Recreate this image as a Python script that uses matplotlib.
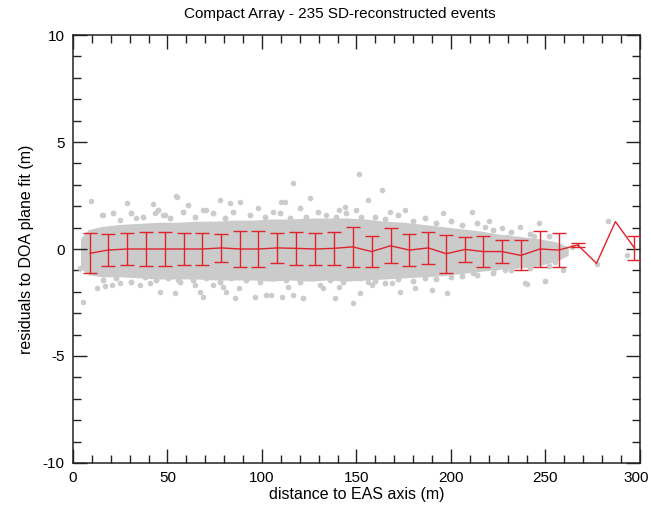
import numpy as np
import matplotlib.pyplot as plt
from matplotlib.ticker import MultipleLocator, FuncFormatter

plt.rcParams['font.family'] = ['Liberation Sans', 'DejaVu Sans']
plt.rcParams['axes.unicode_minus'] = False

# binned mean residuals and their spread
bin_x = [9, 18.5, 28.5, 38.5, 48.5, 58.5, 68.5, 78.5, 88.5, 98,
         108, 118, 128, 138, 148, 158, 168, 178, 188, 197.5,
         207.5, 217, 227, 237, 247, 257, 267, 277, 287, 297]
bin_mean = [-0.2, -0.05, 0.0, 0.0, 0.0, 0.0, 0.0, 0.05, 0.0, 0.0,
            0.05, 0.03, 0.0, 0.03, 0.1, -0.12, 0.15, -0.05, 0.05, -0.22,
            -0.02, -0.12, -0.12, -0.3, 0.0, -0.05, 0.19, -0.67, 1.28, 0.05]
bin_err = [0.93, 0.74, 0.76, 0.78, 0.78, 0.77, 0.76, 0.65, 0.82, 0.82,
           0.72, 0.78, 0.76, 0.76, 0.94, 0.74, 0.82, 0.76, 0.74, 0.88,
           0.58, 0.72, 0.55, 0.7, 0.86, 0.8, 0.08, np.nan, np.nan, 0.55]

# dense part of the residual cloud (envelope)
core_x = [4, 8, 15, 25, 35, 45, 55, 65, 75, 85, 95, 105, 115, 125, 135,
          145, 155, 165, 175, 185, 195, 205, 215, 225, 235, 245, 255, 262]
core_hi = [0.5, 0.9, 1.05, 1.15, 1.2, 1.25, 1.25, 1.3, 1.3, 1.35, 1.35, 1.4, 1.4, 1.45, 1.45,
           1.45, 1.4, 1.3, 1.25, 1.15, 1.05, 0.95, 0.85, 0.7, 0.6, 0.5, 0.35, 0.1]
core_lo = [-0.9, -1.2, -1.3, -1.3, -1.35, -1.4, -1.4, -1.4, -1.45, -1.45, -1.45, -1.5, -1.45, -1.5, -1.45,
           -1.5, -1.45, -1.4, -1.35, -1.3, -1.25, -1.15, -1.05, -0.95, -0.9, -0.8, -0.6, -0.3]

# points along the fuzzy edge of the cloud
edge_x = [21.2, 30.9, 37, 45, 51.1, 58.2, 64.4, 74.1, 80.2, 84.7, 93.5, 101.4, 109.3, 114.6,
          123.5, 129.6, 139.3, 144.6, 152.6, 160, 165, 172, 180, 186, 192, 200, 206, 214,
          222, 232, 242, 252,
          15.9, 22.9, 30.9, 37.9, 44.1, 50.3, 56.4, 63.5, 70.5, 77.6, 83.8, 91.7, 98.8,
          105.8, 112.9, 119.9, 127, 135.8, 142.9, 151.7, 160, 165, 172, 180, 186, 192, 200,
          206, 214, 222, 232, 242, 252]
edge_y = [1.67, 1.67, 1.51, 1.82, 1.43, 1.74, 1.51, 1.67, 1.43, 1.74, 1.59, 1.51, 1.67, 1.43,
          1.51, 1.74, 1.51, 1.67, 1.51, 1.5, 1.4, 1.6, 1.3, 1.45, 1.2, 1.3, 1.1, 1.2,
          0.9, 0.8, 0.7, 0.6,
          -1.45, -1.37, -1.53, -1.29, -1.45, -1.37, -1.53, -1.45, -1.37, -1.53, -1.37, -1.45, -1.53,
          -1.37, -1.45, -1.53, -1.37, -1.45, -1.53, -1.37, -1.5, -1.6, -1.4, -1.5, -1.35, -1.4, -1.3,
          -1.25, -1.2, -1.1, -1.0, -0.9, -0.8]

# isolated points outside the dense cloud
pts_x = [9.4, 15.2, 28.4, 42.5, 54.5, 43.4, 48.7, 5.1, 3.7, 12.5, 16.9, 20.5, 24.9, 46, 54, 40.7,
         54.9, 61, 69, 88.4, 83, 110, 69, 79.5, 85.7, 96.3, 105, 55.7, 64.6,
         151.5, 116.2, 112.2, 125.4, 163.3, 156.2, 144, 120.1, 110.4, 121.9, 138.6, 148.3, 151.9,
         158, 113.9, 132.4,
         167.7, 195.9, 211.3, 175.7, 218, 173, 189.8, 197.7, 181, 168.6, 211.8, 205.6,
         226.8, 236.5, 246.7, 283.2, 240, 249.7, 259.4, 277, 292.9, 247.9, 240, 229.4, 223.3,
         228.6, 247.9, 253.2, 239, 250, 232, 244, 255, 220, 264,
         15.9, 24.7, 33.5, 47.6, 60.8, 70.5, 77.6, 97.9, 105.8, 119.9, 134, 141, 150,
         35.3, 67, 74, 81, 88, 102.3, 116.4, 121.7, 130.5, 141, 156]
pts_y = [2.26, 1.59, 2.13, 2.1, 2.48, 1.67, 1.59, -2.46, -0.9, -1.84, -1.73, -1.68, -1.6, -2.0, -2.07, -1.59,
         2.44, 2.06, 1.82, 2.21, 2.13, 2.21, -2.23, -1.76, -2.3, -2.23, -2.15, -1.45, -1.68,
         3.5, 3.07, 2.21, 2.37, 2.76, 2.29, 1.98, 1.9, -2.23, -2.3, -2.3, -2.54, -2.07,
         -1.68, -1.76, -1.84,
         1.74, 1.67, 1.74, 1.82, 1.04, -2.0, -1.92, -2.07, -1.84, -1.6, -1.14, -1.06,
         0.97, 1.01, 1.2, 1.32, -1.64, -1.48, -0.98, -0.7, -0.28, -0.59, -0.43, 0.57, -0.9,
         -0.98, 0.27, 0.11, -1.6, -1.5, 0.3, 0.6, -0.6, 1.3, 0.1,
         1.59, 1.36, 1.43, 1.59, 2.06, 1.82, 2.29, 1.9, 1.74, 1.9, 1.59, 1.82, 1.82,
         -1.68, -2.0, -1.68, -2.0, -1.84, -2.15, -2.15, -2.3, -1.68, -1.76, -1.53]

fig = plt.figure(figsize=(6.51, 5.09), dpi=100)
ax = fig.add_axes([0.1121, 0.0904, 0.871, 0.8408])

gray = '#cbcbcb'
ax.fill_between(core_x, core_lo, core_hi, color=gray, lw=0, zorder=1)
ax.scatter(edge_x, edge_y, s=18, color=gray, lw=0, zorder=2)
ax.scatter(pts_x, pts_y, s=16, color=gray, lw=0, zorder=2)

red = '#e0232b'
ax.plot(bin_x, bin_mean, color=red, lw=1.0, zorder=3)
err = np.array(bin_err)
has = ~np.isnan(err)
ax.errorbar(np.array(bin_x)[has], np.array(bin_mean)[has], yerr=err[has], fmt='none',
            ecolor=red, elinewidth=1.0, capsize=4.7, capthick=1.0, zorder=3)

ax.set_xlim(0, 300)
ax.set_ylim(-10, 10)
ax.xaxis.set_major_locator(MultipleLocator(50))
ax.xaxis.set_minor_locator(MultipleLocator(10))
ax.yaxis.set_major_locator(MultipleLocator(5))
ax.yaxis.set_minor_locator(MultipleLocator(1))
# the last x label is drawn by hand, nudged left so it stays inside the figure
ax.xaxis.set_major_formatter(FuncFormatter(lambda v, p: '' if v >= 300 else f'{v:g}'))
ax.annotate('300', xy=(300, 0), xycoords=('data', 'axes fraction'), xytext=(-3, -6),
            textcoords='offset points', ha='center', va='top', fontsize=11, annotation_clip=False)
ax.tick_params(which='both', direction='in', top=True, right=True, labelsize=11, color='#222222')
ax.tick_params(which='major', length=10, width=1.0, pad=6)
ax.tick_params(which='minor', length=6, width=1.0)
for s in ax.spines.values():
    s.set_linewidth(1.1)
    s.set_color('#222222')

ax.set_xlabel('distance to EAS axis (m)', fontsize=11.5, labelpad=1)
ax.set_ylabel('residuals to DOA plane fit (m)', fontsize=11.5, labelpad=6)
fig.text(0.522, 0.972, 'Compact Array - 235 SD-reconstructed events', ha='center', va='center', fontsize=11)

fig.savefig('out.png', dpi=100)
